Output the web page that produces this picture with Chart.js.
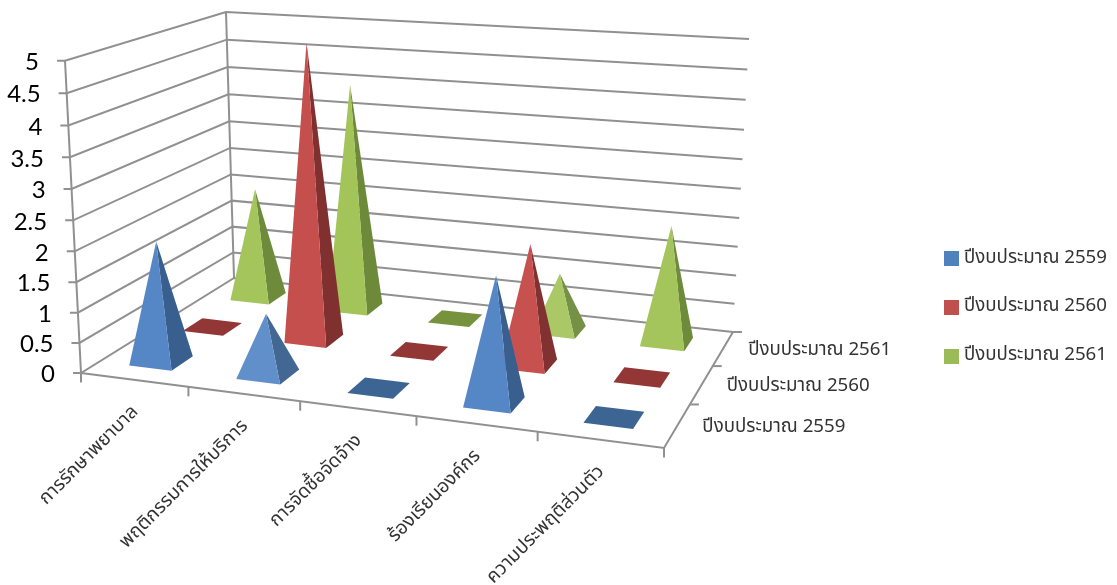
<!DOCTYPE html>
<html><head><meta charset="utf-8">
<style>html,body{margin:0;padding:0;background:#fff}canvas{display:block}</style>
<script src="https://cdn.jsdelivr.net/npm/chart.js@4"></script>
</head><body><canvas id="c" width="1117" height="585"></canvas>
<script>
const categories = ["การรักษาพยาบาล","พฤติกรรมการให้บริการ","การจัดซื้อจัดจ้าง","ร้องเรียนองค์กร","ความประพฤติส่วนตัว"];
const seriesNames = ["ปีงบประมาณ 2559","ปีงบประมาณ 2560","ปีงบประมาณ 2561"];
const values2559 = [2,1,0,2,0];
const values2560 = [0,5,0,2,0];
const values2561 = [2,4,0,1,2];
const seriesValues = [values2559,values2560,values2561];
const frontColors = ["#5385C5","#C54F4D","#A3C459"];
const sideColors  = ["#375E8C","#80302F","#6C8A3A"];
const flatColors  = ["#3D6594","#923735","#76923C"];
const legendColors = ["#4F81BD","#C0504D","#9BBB59"];
const FONT_THAI = '"Noto Sans Thai","Noto Sans Thai Looped","Noto Sans",sans-serif';
const GRID = "#909090";
// projection box of the 3D plot (floor and top planes of the value cube)
const floorQuad = [[81,373],[664,448],[733,332],[234,278]];
const topQuad   = [[65,60.7],[691,103],[749,39],[226,12]];
const VERT_PERSP = 1.045, BASE = 0.4, BASE_SHIFT_U = -0.0025, BASE_SHIFT_V = 0.003;

function homography(q){
  const [[x0,y0],[x1,y1],[x2,y2],[x3,y3]] = q;
  const dx1=x1-x2,dx2=x3-x2,sx=x0-x1+x2-x3,dy1=y1-y2,dy2=y3-y2,sy=y0-y1+y2-y3;
  const den=dx1*dy2-dx2*dy1,g=(sx*dy2-dx2*sy)/den,h=(dx1*sy-sx*dy1)/den;
  const a=x1-x0+g*x1,b=x3-x0+h*x3,d=y1-y0+g*y1,e=y3-y0+h*y3;
  return (u,v)=>{const w=g*u+h*v+1;return [(a*u+b*v+x0)/w,(d*u+e*v+y0)/w];};
}
const floorH=homography(floorQuad), topH=homography(topQuad);
function lighten(hex,t){
  const n=parseInt(hex.slice(1),16);
  const f=c=>Math.round(c+(255-c)*t);
  return `rgb(${f(n>>16&255)},${f(n>>8&255)},${f(n&255)})`;
}
function swatch(color){
  const s=document.createElement('canvas');s.width=15;s.height=15;
  const g=s.getContext('2d');g.fillStyle=color;g.fillRect(0,0,15,15);
  return s;
}
const plugin3d={
  id:'pyramids3d',
  beforeDatasetsDraw(chart){
    const {ctx,scales:{x,y,z}}=chart;
    const U=val=>(val-x.left)/x.width, W=val=>(val-z.left)/z.width;
    const T=val=>(y.bottom-y.getPixelForValue(val))/y.height;
    const proj=(u,h,v)=>{
      const t=h/(h+(1-h)*VERT_PERSP);
      const a=floorH(u,v),b=topH(u,v);
      return [a[0]+(b[0]-a[0])*t,a[1]+(b[1]-a[1])*t];
    };
    const line=(pts,color,width)=>{
      ctx.beginPath();pts.forEach((p,i)=>i?ctx.lineTo(p[0],p[1]):ctx.moveTo(p[0],p[1]));
      ctx.strokeStyle=color||GRID;ctx.lineWidth=width||2;ctx.stroke();
    };
    const poly=(pts,color)=>{
      ctx.beginPath();pts.forEach((p,i)=>i?ctx.lineTo(p[0],p[1]):ctx.moveTo(p[0],p[1]));
      ctx.closePath();ctx.fillStyle=color;ctx.fill();
    };
    ctx.save();
    ctx.lineCap='butt';
    // walls and value ticks
    y.ticks.forEach(tk=>{
      const t=T(tk.value);
      const a=proj(0,t,0),b=proj(0,t,1),c=proj(1,t,1);
      line([[a[0]-8,a[1]],a,b,c]);
      ctx.fillStyle='#000';ctx.font='24px Lato';ctx.textAlign='right';ctx.textBaseline='middle';
      ctx.fillText(String(tk.value),a[0]-26,a[1]+1.5);
    });
    line([proj(0,0,0),proj(0,1,0)]);
    line([proj(0,1,1),proj(0,0,1)]);
    // floor axes
    line([floorH(0,0),floorH(1,0),floorH(1,1)]);
    const catW=1/categories.length, serW=1/seriesNames.length;
    for(let i=0;i<=categories.length;i++){const p=floorH(i*catW,0);line([p,[p[0],p[1]+9.5]]);}
    for(let j=1;j<=seriesNames.length;j++){const p=floorH(1,j*serW);line([p,[p[0]+9,p[1]]]);}
    // pyramids from back to front
    for(let j=seriesNames.length-1;j>=0;j--){
      const cv=W(z.getPixelForValue(j))+BASE_SHIFT_V;
      const hv=serW*BASE/2;
      seriesValues[j].forEach((val,i)=>{
        const cu=U(x.getPixelForValue(i))+BASE_SHIFT_U, hu=catW*BASE/2;
        const fl=floorH(cu-hu,cv-hv),fr=floorH(cu+hu,cv-hv),br=floorH(cu+hu,cv+hv),bl=floorH(cu-hu,cv+hv);
        if(val===0){poly([fl,fr,br,bl],flatColors[j]);return;}
        const apex=proj(cu,T(val),cv);
        const lift=0.08/(val*val*val);
        poly([fr,br,apex],lighten(sideColors[j],lift*0.7));
        poly([fl,fr,apex],lighten(frontColors[j],lift));
      });
    }
    // category labels
    ctx.fillStyle='#333';ctx.font='19px '+FONT_THAI;ctx.textAlign='right';ctx.textBaseline='middle';
    categories.forEach((c,i)=>{
      const p=floorH(U(x.getPixelForValue(i)),0);
      ctx.save();ctx.translate(p[0]+2,p[1]+30);ctx.rotate(-Math.PI/4);ctx.fillText(c,0,0);ctx.restore();
    });
    // series labels
    ctx.textAlign='left';ctx.font='18.7px '+FONT_THAI;
    seriesNames.forEach((s,j)=>{
      const p=floorH(1,W(z.getPixelForValue(j)));
      ctx.fillText(s,p[0]+25,p[1]+3);
    });
    ctx.restore();
    return false;
  }
};
new Chart(document.getElementById('c'),{
  type:'bar',
  data:{labels:categories,datasets:seriesNames.map((n,j)=>({label:n,data:seriesValues[j],backgroundColor:legendColors[j],borderWidth:0}))},
  plugins:[plugin3d],
  options:{
    responsive:false,animation:false,devicePixelRatio:1,
    layout:{padding:{top:30,right:0,left:0,bottom:0}},
    scales:{
      x:{type:'category',offset:true,display:false},
      z:{type:'category',axis:'x',labels:seriesNames,offset:true,display:false},
      y:{type:'linear',min:0,max:5,display:false,ticks:{stepSize:0.5}}
    },
    plugins:{
      tooltip:{enabled:false},
      legend:{position:'right',labels:{
        usePointStyle:true,pointStyleWidth:6.5,boxHeight:15,padding:30,color:'#333',
        font:{size:18.7,family:FONT_THAI},
        generateLabels:c=>c.data.datasets.map((d,i)=>({text:d.label,datasetIndex:i,fillStyle:d.backgroundColor,strokeStyle:d.backgroundColor,lineWidth:0,pointStyle:swatch(legendColors[i]),fontColor:'#333'}))
      }}
    }
  }
});
</script></body></html>
